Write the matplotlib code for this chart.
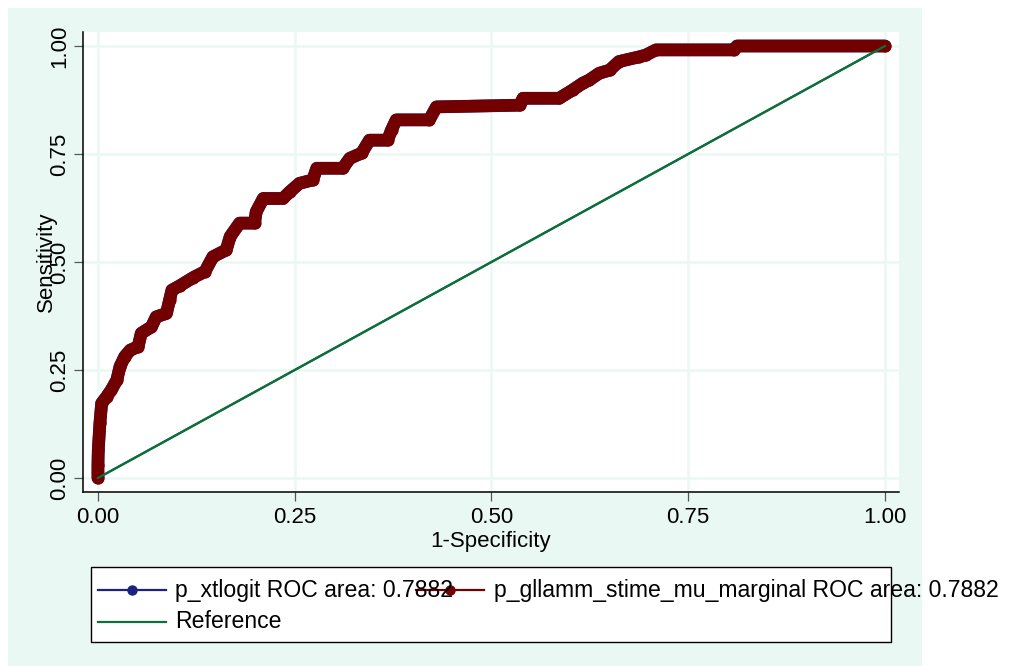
import matplotlib
matplotlib.use("Agg")
import matplotlib.pyplot as plt
from matplotlib.patches import Rectangle
from matplotlib.lines import Line2D

plt.rcParams['font.family'] = ['Liberation Sans', 'DejaVu Sans']

# ---- data ----
fpr = [0.0, 0.0, 0.0004, 0.0025, 0.0047, 0.011, 0.017, 0.024, 0.028, 0.034,
       0.041, 0.051, 0.055, 0.068, 0.074, 0.087, 0.091, 0.094, 0.104, 0.121,
       0.136, 0.146, 0.163, 0.168, 0.180, 0.199, 0.201, 0.210, 0.235, 0.244,
       0.256, 0.273, 0.278, 0.311, 0.320, 0.335, 0.345, 0.368, 0.373, 0.379,
       0.421, 0.430, 0.536, 0.540, 0.586, 0.603, 0.616, 0.624, 0.637, 0.650,
       0.662, 0.688, 0.696, 0.709, 0.808, 0.812, 1.0]
tpr = [0.0, 0.03, 0.065, 0.127, 0.173, 0.188, 0.204, 0.227, 0.258, 0.281,
       0.296, 0.304, 0.335, 0.350, 0.373, 0.381, 0.412, 0.435, 0.445, 0.464,
       0.478, 0.512, 0.528, 0.559, 0.590, 0.590, 0.616, 0.647, 0.647, 0.663,
       0.682, 0.690, 0.717, 0.717, 0.740, 0.752, 0.782, 0.782, 0.806, 0.829,
       0.829, 0.859, 0.863, 0.879, 0.879, 0.898, 0.914, 0.921, 0.937, 0.944,
       0.964, 0.975, 0.979, 0.991, 0.991, 1.0, 1.0]
ref_x = [0.0, 1.0]
ref_y = [0.0, 1.0]
ticks = [0.0, 0.25, 0.5, 0.75, 1.0]
tick_labels = ["0.00", "0.25", "0.50", "0.75", "1.00"]
label1 = "p_xtlogit ROC area: 0.7882"
label2 = "p_gllamm_stime_mu_marginal ROC area: 0.7882"
label3 = "Reference"

MINT = "#EAF8F3"
NAVY = "#1A237E"
MAROON = "#720000"
GREEN = "#0E6E3C"

W, H = 1009, 666
fig = plt.figure(figsize=(W / 100, H / 100), dpi=100)
fig.patch.set_facecolor("white")

# background overlay (pixel coords)
bg = fig.add_axes([0, 0, 1, 1], zorder=0)
bg.set_xlim(0, W)
bg.set_ylim(H, 0)
bg.axis("off")
bg.add_patch(Rectangle((8, 8), 914, 658, facecolor=MINT, edgecolor="none"))

# main axes
L, R, T, B = 83, 899, 32, 492
ax = fig.add_axes([L / W, 1 - B / H, (R - L) / W, (B - T) / H], zorder=1)
ax.set_facecolor("white")
ax.set_xlim(-0.019, 1.0178)
ax.set_ylim(-0.0324, 1.0324)
for s in ["top", "right"]:
    ax.spines[s].set_visible(False)
for s in ["left", "bottom"]:
    ax.spines[s].set_linewidth(1.1)
    ax.spines[s].set_color("black")

ax.set_xticks(ticks)
ax.set_xticklabels(tick_labels)
ax.set_yticks(ticks)
ax.set_yticklabels(tick_labels, rotation=90, va="center")
ax.tick_params(axis="both", labelsize=16, length=6.5, width=0.9, color="#555555")
ax.tick_params(axis="x", pad=4.5)
ax.tick_params(axis="y", pad=3)
ax.grid(True, color=MINT, linewidth=1.8)
ax.set_axisbelow(True)

ax.plot(ref_x, ref_y, color=GREEN, linewidth=1.6, zorder=2)
ax.plot(fpr, tpr, color=NAVY, linewidth=9.2, solid_joinstyle="round",
        solid_capstyle="round", zorder=3)
ax.plot(fpr, tpr, color=MAROON, linewidth=9.0, solid_joinstyle="round",
        solid_capstyle="round", marker="o", markersize=8.8,
        markeredgewidth=0, zorder=4)
ax.plot(ref_x, ref_y, color=GREEN, linewidth=1.6, zorder=5)

ax.set_xlabel("1-Specificity", fontsize=16)
ax.xaxis.set_label_coords(0.5, -0.085)
ax.set_ylabel("Sensitivity", fontsize=16, va="center")
ax.yaxis.set_label_coords((46 - L) / (R - L), 0.5)

# legend overlay (pixel coords)
lg = fig.add_axes([0, 0, 1, 1], zorder=2)
lg.set_xlim(0, W)
lg.set_ylim(H, 0)
lg.axis("off")
lg.patch.set_alpha(0)
lg.add_patch(Rectangle((91, 567), 800, 75, facecolor="white",
                       edgecolor="black", linewidth=1.0))
fs = 16.6
y1, y2 = 590, 622
lg.add_line(Line2D([98, 166], [y1, y1], color=NAVY, linewidth=1.6))
lg.plot([132], [y1], marker="o", color=NAVY, markersize=6.5)
lg.text(175, y1, label1, fontsize=fs, va="center", ha="left")
lg.add_line(Line2D([416, 484], [y1, y1], color=MAROON, linewidth=1.6))
lg.plot([450], [y1], marker="o", color=MAROON, markersize=6.5)
lg.text(494, y1, label2, fontsize=fs, va="center", ha="left")
lg.add_line(Line2D([98, 166], [y2, y2], color=GREEN, linewidth=1.6))
lg.text(175, y2, label3, fontsize=fs, va="center", ha="left")

fig.savefig("out.png", dpi=100)
